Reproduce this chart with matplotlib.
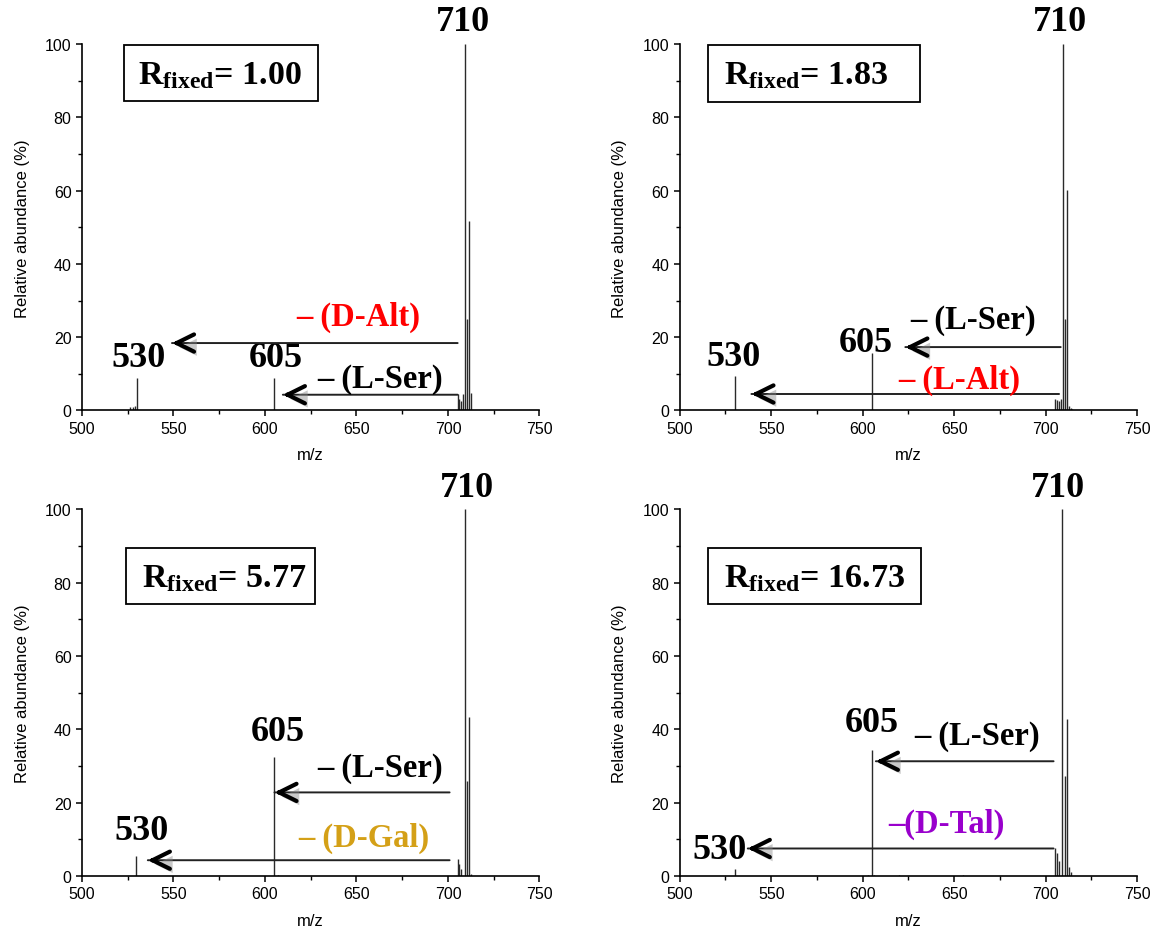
import matplotlib
matplotlib.use("Agg")
import matplotlib.pyplot as plt
import matplotlib.patheffects as pe
from matplotlib.patches import Rectangle
from matplotlib.ticker import MultipleLocator

# spectrum peaks (m/z, relative abundance %)
mz_a = [526.5, 528.0, 529.0, 530.1, 604.8, 705.5, 706.3, 707.2, 708.2, 709.2, 710.4, 711.6, 712.6]
ab_a = [1.0, 1.0, 1.2, 9.0, 9.0, 4.5, 3.0, 2.5, 4.5, 100, 25.0, 51.8, 4.7]

mz_b = [530.0, 605.0, 705.3, 706.2, 707.2, 708.3, 709.2, 710.6, 711.6, 712.8, 713.6, 714.5]
ab_b = [9.5, 15.8, 3.0, 2.8, 2.5, 3.0, 100, 25.0, 60.2, 1.2, 0.8, 0.4]

mz_c = [529.7, 604.8, 607.0, 705.5, 706.2, 707.0, 709.2, 710.4, 711.6, 712.8]
ab_c = [5.5, 32.5, 0.3, 4.6, 3.2, 2.0, 100, 26.0, 43.5, 0.5]

mz_d = [530.0, 603.0, 605.0, 606.0, 620.0, 655.0, 705.3, 706.3, 707.3, 709.0, 710.4, 711.4, 712.6, 713.6]
ab_d = [2.0, 0.3, 34.4, 0.4, 0.3, 0.4, 7.7, 6.4, 4.1, 100, 27.3, 42.8, 2.5, 1.0]

r_fixed = ["1.00", "1.83", "5.77", "16.73"]

SERIF = "Liberation Serif"
SANS = "Liberation Sans"
plt.rcParams["font.family"] = SANS
plt.rcParams["mathtext.fontset"] = "custom"
plt.rcParams["mathtext.rm"] = "Liberation Serif:bold"
plt.rcParams["mathtext.bf"] = "Liberation Serif:bold"
plt.rcParams["mathtext.it"] = "Liberation Serif:bold"

shadow = [pe.SimplePatchShadow(offset=(2, -3), shadow_rgbFace="#888888", alpha=0.45), pe.Normal()]


def setup_axes(ax):
    ax.set_xlim(500, 750)
    ax.set_ylim(0, 100)
    ax.spines["top"].set_visible(False)
    ax.spines["right"].set_visible(False)
    for s in ("left", "bottom"):
        ax.spines[s].set_linewidth(1.2)
    ax.xaxis.set_major_locator(MultipleLocator(50))
    ax.xaxis.set_minor_locator(MultipleLocator(25))
    ax.yaxis.set_major_locator(MultipleLocator(20))
    ax.yaxis.set_minor_locator(MultipleLocator(10))
    ax.tick_params(which="major", direction="out", length=4.5, width=1.1, labelsize=11.5, pad=3)
    ax.tick_params(which="minor", direction="out", length=3, width=1.0)
    ax.set_xlabel("m/z", fontsize=12, labelpad=8)
    ax.set_ylabel("Relative abundance (%)", fontsize=12, labelpad=11)


def peak_label(ax, x, y, txt, va="bottom"):
    ax.text(x, y, txt, fontsize=26, fontweight="bold", family=SERIF,
            ha="center", va=va, color="black")


def loss_arrow(ax, x0, x1, y, txt, tx, ty, color="black"):
    a = ax.annotate("", xy=(x1, y), xytext=(x0, y),
                    arrowprops=dict(arrowstyle="-", lw=1.4, color="#222222",
                                    shrinkA=0, shrinkB=0))
    a.arrow_patch.set_path_effects(shadow)
    h = ax.annotate("", xy=(x1, y), xytext=(x1 + 4, y),
                    arrowprops=dict(arrowstyle="->,head_length=1.25,head_width=0.62",
                                    lw=3.0, color="black", shrinkA=0, shrinkB=0))
    h.arrow_patch.set_path_effects(shadow)
    ax.text(tx, ty, txt, fontsize=23.5, fontweight="bold", family=SERIF,
            ha="center", va="center", color=color)


def r_box(ax, x0, x1, y0, y1, tx, value):
    ax.add_patch(Rectangle((x0, y0), x1 - x0, y1 - y0, transform=ax.transAxes,
                           fill=False, lw=1.3, edgecolor="black", clip_on=False))
    ax.text(tx, (y0 + y1) / 2 - 0.005, r"$\mathbf{R}_{\mathbf{fixed}}$= " + value,
            transform=ax.transAxes, fontsize=24.5, fontweight="bold", family=SERIF,
            ha="left", va="center")


fig, axes = plt.subplots(2, 2, figsize=(11.51, 9.29), dpi=100)
fig.subplots_adjust(left=0.0712, right=0.988, top=0.9516, bottom=0.056,
                    wspace=0.3066, hspace=0.27)
ax1, ax2, ax3, ax4 = axes.flat

for ax, mz, ab in [(ax1, mz_a, ab_a), (ax2, mz_b, ab_b), (ax3, mz_c, ab_c), (ax4, mz_d, ab_d)]:
    setup_axes(ax)
    ax.vlines(mz, 0, ab, color="#2a2a2a", lw=1.0)

# panel 1
r_box(ax1, 0.092, 0.516, 0.845, 0.997, 0.123, r_fixed[0])
peak_label(ax1, 708.0, 101.5, "710")
peak_label(ax1, 531.0, 10.0, "530")
peak_label(ax1, 605.8, 10.0, "605")
loss_arrow(ax1, 705.3, 549.2, 18.4, "– (D-Alt)", 651, 25.7, color="#FF0000")
loss_arrow(ax1, 705.3, 609.8, 4.3, "– (L-Ser)", 663, 8.8)

# panel 2
r_box(ax2, 0.061, 0.526, 0.843, 0.997, 0.097, r_fixed[1])
peak_label(ax2, 707.7, 101.5, "710")
peak_label(ax2, 529.6, 10.3, "530")
peak_label(ax2, 601.8, 14.0, "605")
loss_arrow(ax2, 708.2, 623.3, 17.3, "– (L-Ser)", 660.5, 24.7)
loss_arrow(ax2, 707.3, 539.2, 4.5, "– (L-Alt)", 653, 8.4, color="#FF0000")

# panel 3
r_box(ax3, 0.096, 0.510, 0.743, 0.896, 0.131, r_fixed[2])
peak_label(ax3, 710.4, 101.5, "710")
peak_label(ax3, 607.0, 35.0, "605")
peak_label(ax3, 532.6, 7.8, "530")
loss_arrow(ax3, 700.9, 605.2, 22.8, "– (L-Ser)", 663, 29.6)
loss_arrow(ax3, 700.9, 536.0, 4.3, "– (D-Gal)", 654, 10.5, color="#D4A017")

# panel 4
r_box(ax4, 0.061, 0.528, 0.743, 0.896, 0.097, r_fixed[3])
peak_label(ax4, 706.5, 101.5, "710")
peak_label(ax4, 605.0, 37.5, "605")
peak_label(ax4, 522.0, 7.3, "530", va="center")
loss_arrow(ax4, 704.3, 607.2, 31.3, "– (L-Ser)", 662.5, 38.3)
loss_arrow(ax4, 704.3, 537.2, 7.5, "–(D-Tal)", 645.7, 14.3, color="#9900CC")

fig.savefig("out.png", dpi=100)
